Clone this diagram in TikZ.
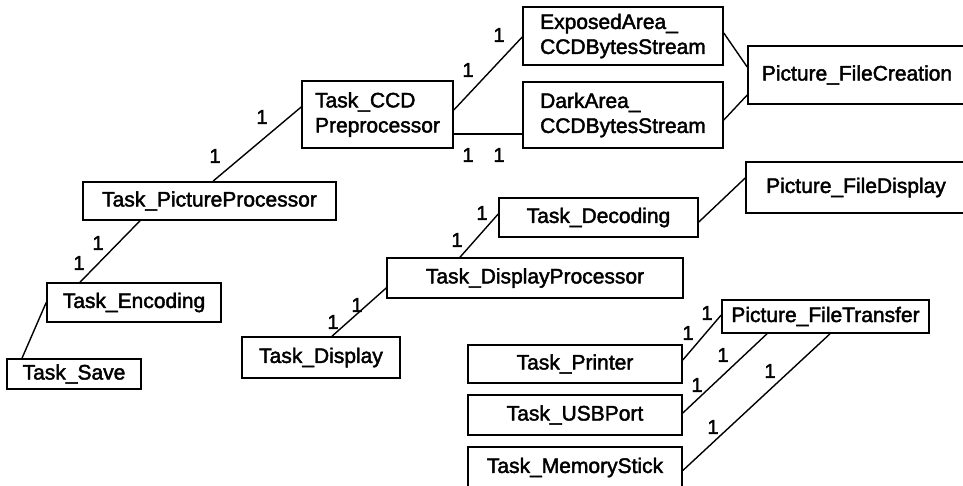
\documentclass[tikz,border=0pt]{standalone}
\usepackage{fontspec}
\setmainfont{Liberation Sans}
\newfontfamily\diagfont{Liberation Sans}[FakeBold=2]
\begin{document}
\begin{tikzpicture}[x=1pt,y=-1pt,
  box/.style={draw, line width=1.6pt, inner sep=0pt, font=\diagfont\fontsize{21}{25}\selectfont},
  link/.style={line width=1.4pt},
  mult/.style={font=\diagfont\fontsize{20}{24}\selectfont, inner sep=0pt}]
\useasboundingbox (0,0) rectangle (963,485);
\fill[white] (0,0) rectangle (963,485);

% classes
\node[box, minimum width=134pt, minimum height=30pt] (save) at (74,374) {Task\_Save};
\node[box, minimum width=174pt, minimum height=39pt] (enc) at (134,302.5) {Task\_Encoding};
\node[box, minimum width=253pt, minimum height=38pt] (pp) at (209.5,201) {Task\_PictureProcessor};
\node[box, minimum width=151pt, minimum height=67pt, align=left] (ccd) at (377.5,114.5) {Task\_CCD\\Preprocessor};
\node[box, minimum width=200pt, minimum height=58pt, align=left] (exp) at (623,36) {ExposedArea\_\\CCDBytesStream};
\node[box, minimum width=200pt, minimum height=66pt, align=left] (dark) at (623,115) {DarkArea\_\\CCDBytesStream};
\node[box, minimum width=218pt, minimum height=58pt] (create) at (857,75) {Picture\_FileCreation};
\node[box, minimum width=220pt, minimum height=51pt] (fdisp) at (856,187.5) {Picture\_FileDisplay};
\node[box, minimum width=199pt, minimum height=39pt] (dec) at (598.5,217.5) {Task\_Decoding};
\node[box, minimum width=296pt, minimum height=40pt] (dproc) at (535,278) {Task\_DisplayProcessor};
\node[box, minimum width=158pt, minimum height=41pt] (disp) at (321,357.5) {Task\_Display};
\node[box, minimum width=207pt, minimum height=33pt] (ft) at (825.5,316.5) {Picture\_FileTransfer};
\node[box, minimum width=214pt, minimum height=38pt] (printer) at (575,364) {Task\_Printer};
\node[box, minimum width=214pt, minimum height=40pt] (usb) at (575,415) {Task\_USBPort};
\node[box, minimum width=214pt, minimum height=41pt] (mem) at (575,467.5) {Task\_MemoryStick};

% associations
\draw[link] (enc.west) -- ([xshift=-52pt]save.north);
\draw[link] ([xshift=-69.5pt]pp.south) -- ([xshift=-54pt]enc.north);
\draw[link] ([xshift=3.5pt]pp.north) -- ([yshift=7.5pt]ccd.west);
\draw[link] ([yshift=4.5pt]ccd.east) -- ([yshift=-1pt]exp.west);
\draw[link] ([yshift=-19.5pt]ccd.east) -- ([yshift=-19.5pt]ccd.east -| dark.west);
\draw[link] ([yshift=3pt]exp.east) -- ([yshift=8pt]create.west);
\draw[link] ([yshift=-5pt]dark.east) -- ([yshift=-20pt]create.west);
\draw[link] ([xshift=11pt]disp.north) -- ([yshift=-10pt]dproc.west);
\draw[link] ([xshift=-75pt]dproc.north) -- ([yshift=3.5pt]dec.west);
\draw[link] ([yshift=-4.5pt]dec.east) -- ([yshift=9.5pt]fdisp.west);
\draw[link] ([yshift=4pt]printer.east) -- ([yshift=1.5pt]ft.west);
\draw[link] ([yshift=2pt]usb.east) -- ([xshift=-58.5pt]ft.south);
\draw[link] ([yshift=-3pt]mem.east) -- ([xshift=4.5pt]ft.south);

% multiplicities
\node[mult] (m1) at (79,263) {1};
\node[mult] (m2) at (98,243) {1};
\node[mult] (m3) at (215,156) {1};
\node[mult] (m4) at (262,117) {1};
\node[mult] (m5) at (468,70) {1};
\node[mult] (m6) at (499,35) {1};
\node[mult] (m7) at (468,155) {1};
\node[mult] (m8) at (499,155) {1};
\node[mult] (m9) at (333,322) {1};
\node[mult] (m10) at (357,305) {1};
\node[mult] (m11) at (457,240) {1};
\node[mult] (m12) at (482,213) {1};
\node[mult] (m13) at (707,313) {1};
\node[mult] (m14) at (688,333) {1};
\node[mult] (m15) at (723,355) {1};
\node[mult] (m16) at (697,385) {1};
\node[mult] (m17) at (770,371) {1};
\node[mult] (m18) at (713,427) {1};
\end{tikzpicture}
\end{document}
